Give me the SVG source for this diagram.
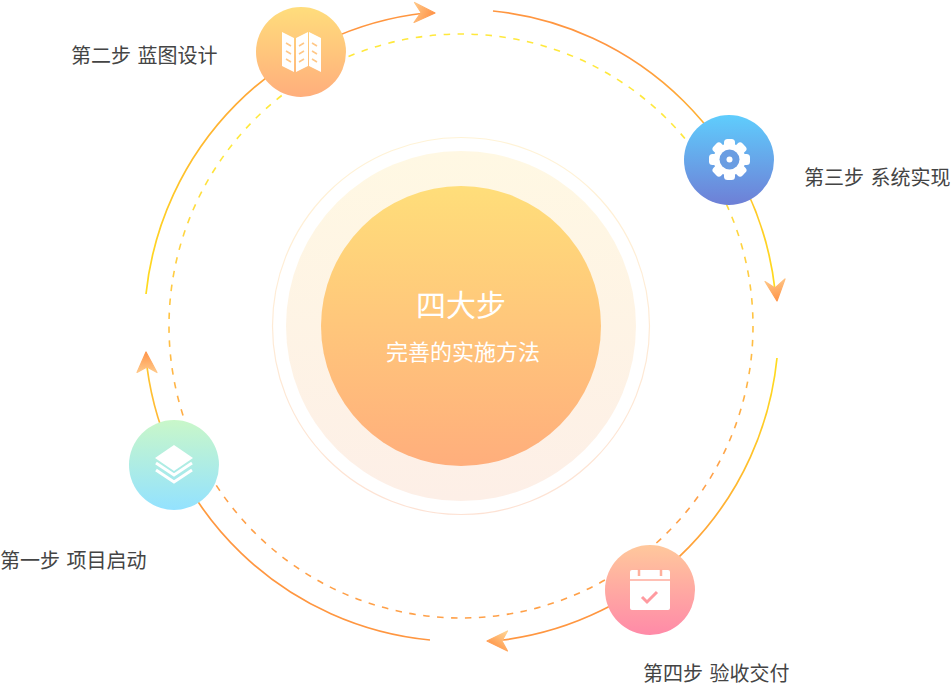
<svg xmlns="http://www.w3.org/2000/svg" width="951" height="686" viewBox="0 0 951 686">
<style>
.lbl{font-family:"Noto Sans CJK SC","Noto Sans",sans-serif;font-size:20px;fill:#444;word-spacing:2px}
.ctr{font-family:"Noto Sans CJK SC","Noto Sans",sans-serif;fill:#fff;text-anchor:middle}
.arc{fill:none;stroke-width:1.7}
.ico{fill:#fff}
.wl{fill:none;stroke:#fff;stroke-width:3}
.head{stroke-width:1.2;stroke-linejoin:round}
</style>
<defs>
<linearGradient id="gCore" x1="0" y1="0" x2="0" y2="1"><stop offset="0" stop-color="#ffde7a"/><stop offset="1" stop-color="#ffae7c"/></linearGradient>
<linearGradient id="gHalo" x1="0" y1="0" x2="0" y2="1"><stop offset="0" stop-color="#fff8e3"/><stop offset="1" stop-color="#fdefe7"/></linearGradient>
<linearGradient id="gRing" x1="0" y1="0" x2="0" y2="1"><stop offset="0" stop-color="#fff3d6"/><stop offset="1" stop-color="#fde2d4"/></linearGradient>
<linearGradient id="gN1" x1="0" y1="0" x2="0" y2="1"><stop offset="0" stop-color="#c9f7c9"/><stop offset="1" stop-color="#93e2ff"/></linearGradient>
<linearGradient id="gN2" x1="0" y1="0" x2="0" y2="1"><stop offset="0" stop-color="#ffdd7c"/><stop offset="1" stop-color="#ffae7c"/></linearGradient>
<linearGradient id="gN3" x1="0" y1="0" x2="0" y2="1"><stop offset="0" stop-color="#5fcdfd"/><stop offset="1" stop-color="#6e7fd6"/></linearGradient>
<linearGradient id="gN4" x1="0" y1="0" x2="0" y2="1"><stop offset="0" stop-color="#ffc89c"/><stop offset="1" stop-color="#ff8aa8"/></linearGradient>
<linearGradient id="gDash" gradientUnits="userSpaceOnUse" x1="461" y1="34" x2="461" y2="618"><stop offset="0.2" stop-color="#ffe83c"/><stop offset="0.75" stop-color="#ffa048"/></linearGradient>
<linearGradient id="a1" gradientUnits="userSpaceOnUse" x1="146" y1="294" x2="425" y2="13"><stop offset="0" stop-color="#ffdc1e"/><stop offset="0.75" stop-color="#ff9640"/></linearGradient>
<linearGradient id="a2" gradientUnits="userSpaceOnUse" x1="493" y1="11" x2="775" y2="290"><stop offset="0.3" stop-color="#ff9640"/><stop offset="1" stop-color="#ffdc1e"/></linearGradient>
<linearGradient id="a3" gradientUnits="userSpaceOnUse" x1="777" y1="358" x2="503" y2="640"><stop offset="0" stop-color="#ffdc1e"/><stop offset="0.6" stop-color="#ff9640"/></linearGradient>
<linearGradient id="a4" gradientUnits="userSpaceOnUse" x1="430" y1="640" x2="147" y2="367"><stop offset="0.6" stop-color="#ff9640"/><stop offset="1" stop-color="#ffc630"/></linearGradient>
<linearGradient id="hT" x1="0" y1="0" x2="1" y2="0.4"><stop offset="0" stop-color="#ffc98a"/><stop offset="1" stop-color="#ff9448"/></linearGradient>
<linearGradient id="hR" x1="0.3" y1="0" x2="0.5" y2="1"><stop offset="0" stop-color="#ffc98a"/><stop offset="1" stop-color="#ff9448"/></linearGradient>
<linearGradient id="hB" x1="0.8" y1="0" x2="0.2" y2="0.8"><stop offset="0" stop-color="#ffd08e"/><stop offset="1" stop-color="#ff9448"/></linearGradient>
<linearGradient id="hL" x1="0.5" y1="1" x2="0.5" y2="0"><stop offset="0" stop-color="#ffc98a"/><stop offset="1" stop-color="#ff9448"/></linearGradient>
</defs>

<g id="center">
<circle cx="461" cy="326" r="188.500" fill="none" stroke="url(#gRing)" stroke-width="1.200"/>
<circle cx="461" cy="326" r="175" fill="url(#gHalo)"/>
<circle cx="461" cy="326" r="140" fill="url(#gCore)"/>
<text class="ctr" x="461" y="316" font-size="30">四大步</text>
<text class="ctr" x="463" y="360" font-size="22">完善的实施方法</text>
</g>

<g id="connectors">
<circle cx="461" cy="326" r="292" fill="none" stroke="url(#gDash)" stroke-width="1.600" stroke-dasharray="6.500 7.500"/>
<path class="arc" stroke="url(#a1)" d="M146 294A316 316 0 0 1 425 13"/>
<path class="arc" stroke="url(#a2)" d="M493 11A316 316 0 0 1 775 290"/>
<path class="arc" stroke="url(#a3)" d="M777 358A316 316 0 0 1 503 640"/>
<path class="arc" stroke="url(#a4)" d="M430 640A316 316 0 0 1 147 367"/>
<path class="head" fill="url(#hT)" stroke="url(#hT)" d="M435 13L414.500 2.500L421 12.500L414 22.500Z"/>
<path class="head" fill="url(#hR)" stroke="url(#hR)" d="M777 301L765 281.500L775 288L785 279Z"/>
<path class="head" fill="url(#hB)" stroke="url(#hB)" d="M487 641L507.500 631L502 641L507.500 651Z"/>
<path class="head" fill="url(#hL)" stroke="url(#hL)" d="M146 352L137 372.500L147 367L157 372.500Z"/>
</g>

<g id="step1">
<circle cx="174" cy="465" r="45" fill="url(#gN1)"/>
<path class="ico" d="M174 445L193 458L174 471L155 458Z"/>
<path class="wl" d="M156 463L174 475L192 463"/>
<path class="wl" d="M156 470L174 482L192 470"/>
<text class="lbl" x="0" y="568">第一步 项目启动</text>
</g>

<g id="step2">
<circle cx="301" cy="52" r="45" fill="url(#gN2)"/>
<path class="ico" d="M282 32L294 38V72L282 66Z"/>
<path class="ico" d="M296 38L308 32V66L296 72Z"/>
<path class="ico" d="M309 32L321 38V72L309 66Z"/>
<path fill="none" stroke="#ffc888" stroke-width="1.600" d="M286 43L291 46M286 51L291 54M286 59L291 62M299 46L304 43M299 54L304 51M299 62L304 59M312 43L317 46M312 51L317 54M312 59L317 62"/>
<text class="lbl" x="71" y="63">第二步 蓝图设计</text>
</g>

<g id="step3">
<circle cx="729" cy="160" r="45" fill="url(#gN3)"/>
<g class="ico" transform="translate(729.500 159.500)">
<circle r="16"/>
<rect x="-5.500" y="-20.500" width="11" height="41" rx="3.500"/>
<rect x="-5.500" y="-20.500" width="11" height="41" rx="3.500" transform="rotate(45)"/>
<rect x="-5.500" y="-20.500" width="11" height="41" rx="3.500" transform="rotate(90)"/>
<rect x="-5.500" y="-20.500" width="11" height="41" rx="3.500" transform="rotate(135)"/>
<circle r="10" fill="#6a9de2"/>
<circle r="3"/>
</g>
<text class="lbl" x="804" y="185">第三步 系统实现</text>
</g>

<g id="step4">
<circle cx="650" cy="590" r="45" fill="url(#gN4)"/>
<rect class="ico" x="630" y="570" width="40" height="40" rx="2"/>
<path fill="none" stroke="#ffab9c" stroke-width="1.500" d="M630 580H670"/>
<path fill="none" stroke="#ffb09c" stroke-width="2.500" d="M639 569V576M661 569V576"/>
<path fill="none" stroke="#ff9aa0" stroke-width="3" d="M642 597L647 602L657 592"/>
<text class="lbl" x="643" y="681">第四步 验收交付</text>
</g>
</svg>
